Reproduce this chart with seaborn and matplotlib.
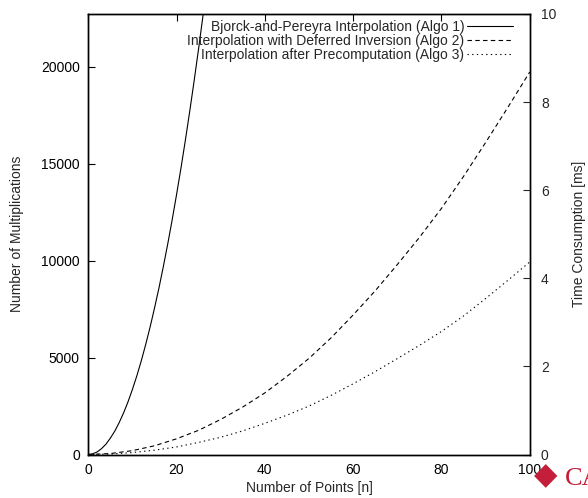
import pandas as pd
import matplotlib
matplotlib.use('Agg')
import matplotlib.pyplot as plt
import seaborn as sns

# Valeurs (nombre de multiplications)
n_algo1 = [0, 1, 2, 3, 4, 5, 6, 7, 8, 9, 10, 11, 12, 13, 14, 15, 16, 17, 18, 19, 20,
           21, 22, 23, 24, 25, 26, 27, 28]
mult_algo1 = [0, 35, 130, 300, 530, 840, 1200, 1640, 2140, 2710, 3350, 4050, 4820, 5660, 6560,
              7540, 8570, 9680, 10850, 12090, 13400, 14770, 16210, 17720, 19300, 20940, 22650,
              24420, 26260]

n_points = [0, 5, 10, 15, 20, 25, 30, 35, 40, 45, 50, 55, 60, 65, 70, 75, 80, 85, 90, 95, 100]
mult_algo2 = [0, 50, 200, 450, 810, 1250, 1810, 2450, 3180, 4030, 4960, 6020, 7200, 8450, 9800,
              11200, 12700, 14350, 16100, 17900, 19740]
mult_algo3 = [0, 25, 100, 225, 390, 625, 890, 1220, 1610, 2030, 2500, 3050, 3650, 4280, 4950,
              5630, 6350, 7150, 8050, 8980, 9940]

labels = ['Bjorck-and-Pereyra Interpolation (Algo 1)',
          'Interpolation with Deferred Inversion (Algo 2)',
          'Interpolation after Precomputation (Algo 3)']

y_ticks = [0, 5000, 10000, 15000, 20000]
y2_ticks = [0, 2, 4, 6, 8, 10]
x_ticks = [0, 20, 40, 60, 80, 100]

sns.set_style('white')
plt.rcParams['font.family'] = ['Liberation Sans', 'DejaVu Sans']
plt.rcParams['font.size'] = 10

df1 = pd.DataFrame({'n': n_algo1, 'mult': mult_algo1})
df2 = pd.DataFrame({'n': n_points, 'mult': mult_algo2})
df3 = pd.DataFrame({'n': n_points, 'mult': mult_algo3})

fig = plt.figure(figsize=(5.88, 4.98), dpi=100)
ax = fig.add_axes([0.150, 0.0873, 0.751, 0.8846])

sns.lineplot(data=df1, x='n', y='mult', ax=ax, color='black', lw=0.8, label=labels[0])
l2 = sns.lineplot(data=df2, x='n', y='mult', ax=ax, color='black', lw=0.8, label=labels[1]).lines[-1]
l2.set_dashes((4, 3))
l3 = sns.lineplot(data=df3, x='n', y='mult', ax=ax, color='black', lw=0.8, label=labels[2]).lines[-1]
l3.set_dashes((1.2, 3.0))

ax.set_xlim(0, 100)
ax.set_ylim(0, 22730)
ax.set_xticks(x_ticks)
ax.set_yticks(y_ticks)
ax.set_xlabel('Number of Points [n]', labelpad=3)
ax.set_ylabel('Number of Multiplications', labelpad=12)
ax.tick_params(axis='both', direction='in', length=5, width=0.8, colors='black', labelsize=10)
ax.tick_params(axis='x', top=True, pad=6)
ax.tick_params(axis='y', pad=6)
for s in ax.spines.values():
    s.set_linewidth(1.0)
    s.set_color('black')

# axe de droite : temps
ax2 = ax.twinx()
ax2.set_ylim(0, 10)
ax2.set_yticks(y2_ticks)
ax2.set_ylabel('Time Consumption [ms]', labelpad=11)
ax2.tick_params(axis='y', direction='in', length=5, width=0.8, pad=8, labelsize=10)
for s in ax2.spines.values():
    s.set_linewidth(1.0)
    s.set_color('black')

# légende à la gnuplot : texte aligné à droite, trait à droite
ax.legend(loc='upper right', bbox_to_anchor=(0.9615, 0.986), frameon=False,
          markerfirst=False, handlelength=3.3, handletextpad=0.2,
          labelspacing=0.0, borderpad=0, borderaxespad=0, fontsize=10)

# logo en bas à droite
fig.text(0.928, 0.045, '◆', color='#c41e3a', fontsize=22, ha='center', va='center',
         family=['DejaVu Sans'])
fig.text(0.961, 0.026, 'CA', color='#c41e3a', fontsize=19, family=['Liberation Serif'])

fig.savefig('out.png', dpi=100)
